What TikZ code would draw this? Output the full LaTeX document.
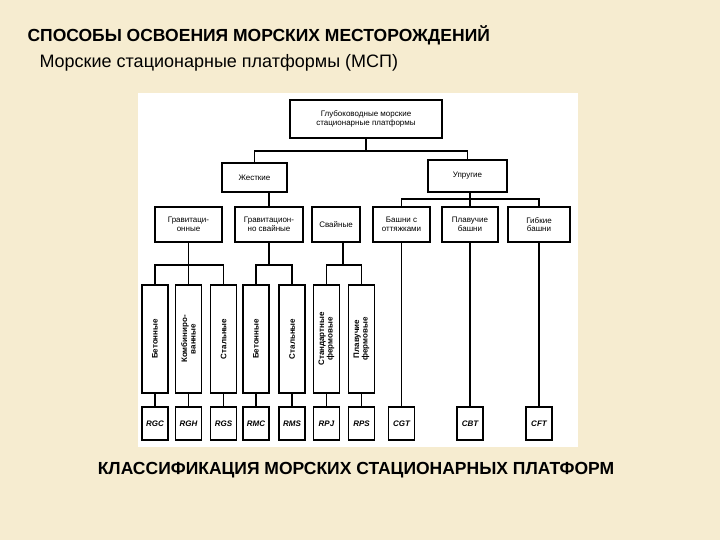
\documentclass[tikz,border=0pt]{standalone}
\usepackage{fontspec}
\setmainfont{Liberation Sans}
\begin{document}
\begin{tikzpicture}[x=1pt,y=-1pt,
  bx/.style={draw,line width=1.6pt,fill=white,inner sep=1pt,align=center,font=\fontsize{8}{8.5}\selectfont},
  ln/.style={line width=1.3pt},
  vt/.style={rotate=90,align=center,font=\bfseries\fontsize{8}{8.5}\selectfont}]
\fill[fill={rgb,255:red,246;green,236;blue,208}] (0,0) rectangle (720,540);
\useasboundingbox (0,0) rectangle (720,540);
\fill[white] (138,93) rectangle (578,447);
\node[anchor=west,font=\bfseries\fontsize{17.5}{20}\selectfont] (t1) at (24,35) {СПОСОБЫ ОСВОЕНИЯ МОРСКИХ МЕСТОРОЖДЕНИЙ};
\node[anchor=west,font=\fontsize{18}{20}\selectfont] (t2) at (36,63) {Морские стационарные платформы (МСП)};
\node[font=\bfseries\fontsize{17.5}{20}\selectfont] (t3) at (356,470) {КЛАССИФИКАЦИЯ МОРСКИХ СТАЦИОНАРНЫХ ПЛАТФОРМ};
% level 1,2
\node[bx,minimum width=152pt,minimum height=38pt] (top) at (366,119) {Глубоководные морские\\стационарные платформы};
\node[bx,minimum width=65pt,minimum height=29pt] (zh) at (254.5,177.5) {Жесткие};
\node[bx,minimum width=79pt,minimum height=32pt] (up) at (467.5,176) {Упругие};
% level 3
\node[bx,minimum width=67pt,minimum height=35pt] (gr) at (188.5,224.5) {Гравитаци-\\онные};
\node[bx,minimum width=68pt,minimum height=35pt] (gs) at (269,224.5) {Гравитацион-\\но свайные};
\node[bx,minimum width=48pt,minimum height=35pt] (sv) at (336,224.5) {Свайные};
\node[bx,minimum width=57pt,minimum height=35pt] (bo) at (401.5,224.5) {Башни с\\оттяжками};
\node[bx,minimum width=56pt,minimum height=35pt] (pb) at (470,224.5) {Плавучие\\башни};
\node[bx,minimum width=62pt,minimum height=35pt] (gb) at (539,224.5) {Гибкие\\башни};
% level 4 tall
\foreach \n/\x/\t in {a/155/Бетонные,b/188.5/Комбиниро-\\ванные,c/223.5/Стальные,d/256/Бетонные,e/292/Стальные,f/326.5/Стандартные\\фермовые,g/361.5/Плавучие\\фермовые}{
  \node[bx,minimum width=26pt,minimum height=108pt] (\n) at (\x,339) {};
  \node[vt] (v\n) at (\x,339) {\t};
}
\foreach \n/\x/\t in {ca/155/RGC,cb/188.5/RGH,cc/223.5/RGS,cd/256/RMC,ce/292/RMS,cf/326.5/RPJ,cg/361.5/RPS,ch/401.5/CGT,ci/470/CBT,cj/539/CFT}{
  \node[bx,minimum width=26pt,minimum height=33pt,font=\itshape\bfseries\fontsize{8}{9}\selectfont] (\n) at (\x,423.5) {\t};
}
% connectors
\coordinate (j1) at (366,151);
\coordinate (j2) at (470,199);
\coordinate (j0) at (188.5,265);
\coordinate (j3) at (269,265);
\coordinate (j4) at (343,265);
\draw[ln] (top.south) -- (j1);
\draw[ln] (zh.north) |- (j1) -| (up.north);
\draw[ln] (zh.south -| gs.north) -- (gs.north);
\draw[ln] (up.south -| j2) -- (j2);
\draw[ln] (bo.north) |- (j2) -| (gb.north);
\draw[ln] (j2) -- (pb.north);
\draw[ln] (gr.south) -- (b.north);
\draw[ln] (a.north) |- (j0) -| (c.north);
\draw[ln] (gs.south) -- (j3);
\draw[ln] (d.north) |- (j3) -| (e.north);
\draw[ln] (sv.south -| j4) -- (j4);
\draw[ln] (f.north) |- (j4) -| (g.north);
\draw[ln] (bo.south) -- (ch.north);
\draw[ln] (pb.south) -- (ci.north);
\draw[ln] (gb.south) -- (cj.north);
\foreach \p/\q in {a/ca,b/cb,c/cc,d/cd,e/ce,f/cf,g/cg}{\draw[ln] (\p.south) -- (\q.north);}
\end{tikzpicture}
\end{document}
